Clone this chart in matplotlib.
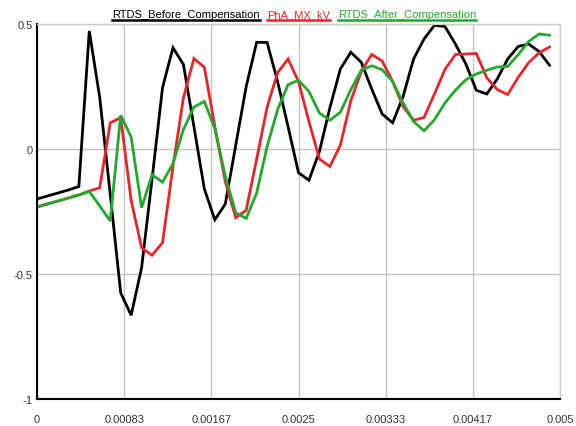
import numpy as np
import matplotlib
matplotlib.use("Agg")
import matplotlib.pyplot as plt
from matplotlib.lines import Line2D

# Sample times (s), 0.1 ms step
time_s = np.arange(50) * 1e-4

before_comp = [
    -0.200, -0.188, -0.176, -0.164, -0.150, 0.472, 0.205, -0.180, -0.575, -0.665,
    -0.475, -0.120, 0.245, 0.405, 0.338, 0.090, -0.160, -0.283, -0.220, 0.015,
    0.250, 0.427, 0.426, 0.270, 0.090, -0.095, -0.125, -0.010, 0.165, 0.320,
    0.387, 0.347, 0.240, 0.140, 0.105, 0.210, 0.360, 0.440, 0.495, 0.490,
    0.420, 0.340, 0.235, 0.220, 0.280, 0.360, 0.410, 0.420, 0.390, 0.335,
]

pha_mx_kv = [
    -0.232, -0.220, -0.208, -0.196, -0.184, -0.168, -0.155, 0.105, 0.125, -0.205,
    -0.395, -0.425, -0.375, -0.070, 0.205, 0.362, 0.327, 0.090, -0.130, -0.275,
    -0.245, -0.040, 0.168, 0.305, 0.360, 0.270, 0.110, -0.040, -0.070, 0.015,
    0.193, 0.310, 0.378, 0.352, 0.270, 0.170, 0.115, 0.126, 0.220, 0.318,
    0.378, 0.380, 0.382, 0.285, 0.238, 0.218, 0.286, 0.345, 0.385, 0.408,
]

after_comp = [
    -0.232, -0.220, -0.208, -0.196, -0.184, -0.170, -0.228, -0.288, 0.135, 0.048,
    -0.235, -0.102, -0.133, -0.058, 0.078, 0.168, 0.190, 0.082, -0.108, -0.255,
    -0.278, -0.176, 0.010, 0.157, 0.257, 0.275, 0.230, 0.144, 0.115, 0.147,
    0.237, 0.315, 0.333, 0.317, 0.270, 0.184, 0.110, 0.073, 0.117, 0.184,
    0.235, 0.277, 0.300, 0.315, 0.328, 0.330, 0.377, 0.430, 0.460, 0.455,
]

series_names = ["RTDS_Before_Compensation", "PhA_MX_kV", "RTDS_After_Compensation"]
series_colors = ["#000000", "#e8252a", "#22a82c"]

x_ticks = [0, 0.005 / 6, 0.01 / 6, 0.0025, 0.02 / 6, 0.025 / 6, 0.005]
x_tick_labels = ["0", "0.00083", "0.00167", "0.0025", "0.00333", "0.00417", "0.005"]
y_ticks = [-1, -0.5, 0, 0.5]
y_tick_labels = ["-1", "-0.5", "0", "0.5"]

plt.rcParams["font.family"] = ["Liberation Sans", "DejaVu Sans"]

fig = plt.figure(figsize=(5.76, 4.27), dpi=100)
ax = fig.add_axes([37 / 576, 27 / 427, 523 / 576, 375 / 427])

for vals, col in zip([before_comp, pha_mx_kv, after_comp], series_colors):
    ax.plot(time_s, vals, color=col, lw=2.0, solid_joinstyle="miter")

ax.set_xlim(0, 0.005)
ax.set_ylim(-1, 0.5)
ax.set_xticks(x_ticks)
ax.set_xticklabels(x_tick_labels)
ax.set_yticks(y_ticks)
ax.set_yticklabels(y_tick_labels)
ax.tick_params(axis="both", length=0, labelsize=8, labelcolor="#333333")
ax.tick_params(axis="x", pad=11)
ax.tick_params(axis="y", pad=3)
ax.grid(True, color="#c4c4c4", lw=1.0)
ax.set_axisbelow(True)

for side in ("left", "bottom"):
    ax.spines[side].set_color("#000000")
    ax.spines[side].set_linewidth(1.5)
for side in ("top", "right"):
    ax.spines[side].set_color("#cccccc")
    ax.spines[side].set_linewidth(1.0)

# Legend: coloured, underlined labels along the top
legend_x = [112, 267, 338]
texts = []
for name, col, x0 in zip(series_names, series_colors, legend_x):
    t = fig.text(x0 / 576, 1 - 15 / 427, name, color=col, fontsize=8,
                 ha="left", va="center")
    texts.append(t)

fig.canvas.draw()
renderer = fig.canvas.get_renderer()
for t, col in zip(texts, series_colors):
    bb = t.get_window_extent(renderer)
    y_line = 1 - 20.5 / 427
    fig.add_artist(Line2D([bb.x0 / 576, bb.x1 / 576], [y_line, y_line],
                          transform=fig.transFigure, color=col, lw=1.8))

fig.savefig("out.png", dpi=100)
